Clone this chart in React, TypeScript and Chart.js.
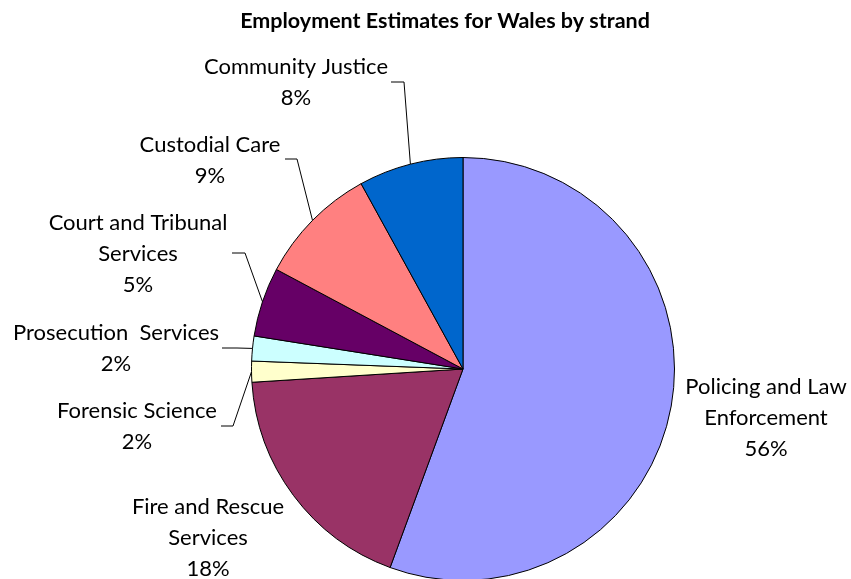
import React, { useEffect, useRef } from "react";
import { Chart, registerables } from "chart.js";

Chart.register(...registerables);

const TITLE = "Employment Estimates for Wales by strand";
const categories = [
  "Policing and Law Enforcement",
  "Fire and Rescue Services",
  "Forensic Science",
  "Prosecution  Services",
  "Court and Tribunal Services",
  "Custodial Care",
  "Community Justice",
];
const shares = [55.6, 18.4, 1.6, 1.9, 5.3, 9.2, 8.0];
const colors = ["#9999FF", "#993366", "#FFFFCC", "#CCFFFF", "#660066", "#FF8080", "#0066CC"];

// label text lines (as broken in the reference)
const labelLines = [
  ["Policing and Law", "Enforcement"],
  ["Fire and Rescue", "Services"],
  ["Forensic Science"],
  ["Prosecution  Services"],
  ["Court and Tribunal", "Services"],
  ["Custodial Care"],
  ["Community Justice"],
];

// layout: label block center x, first line y, optional leader (horizontal from hx0 to hx1 at hy)
const labelLayout = [
  { x: 766, y: 387, leader: null },
  { x: 208, y: 507, leader: null },
  { x: 137, y: 411, leader: { hx0: 221, hx1: 233, hy: 426 } },
  { x: 116, y: 333, leader: { hx0: 222, hx1: 237, hy: 348 } },
  { x: 138, y: 223, leader: { hx0: 232, hx1: 245, hy: 253 } },
  { x: 210, y: 145, leader: { hx0: 285, hx1: 297, hy: 159 } },
  { x: 296, y: 67, leader: { hx0: 391, hx1: 404, hy: 82 } },
];

const FONT = "Lato, 'Noto Sans', sans-serif";
const LINE_H = 31;

const labelPlugin = {
  id: "pieLabels",
  afterDraw(chart: any) {
    const ctx = chart.ctx as CanvasRenderingContext2D;
    const meta = chart.getDatasetMeta(0);
    const data = chart.data.datasets[0].data as number[];
    const total = data.reduce((a, b) => a + b, 0);
    ctx.save();
    // title
    ctx.fillStyle = "#000";
    ctx.font = `bold 21.5px ${FONT}`;
    ctx.textAlign = "center";
    ctx.textBaseline = "middle";
    ctx.fillText(TITLE, 445, 21);

    ctx.font = `22px ${FONT}`;
    meta.data.forEach((arc: any, i: number) => {
      const p = arc.getProps(["x", "y", "startAngle", "endAngle", "outerRadius"], true);
      const mid = (p.startAngle + p.endAngle) / 2;
      const ex = p.x + Math.cos(mid) * p.outerRadius;
      const ey = p.y + Math.sin(mid) * p.outerRadius;
      const lay = labelLayout[i];
      const pct = Math.round((data[i] / total) * 100) + "%";
      const lines = [...labelLines[i], pct];
      ctx.fillStyle = "#000";
      lines.forEach((t, k) => ctx.fillText(t, lay.x, lay.y + k * LINE_H));
      if (lay.leader) {
        ctx.strokeStyle = "#000";
        ctx.lineWidth = 1;
        ctx.beginPath();
        ctx.moveTo(lay.leader.hx0, lay.leader.hy);
        ctx.lineTo(lay.leader.hx1, lay.leader.hy);
        ctx.lineTo(ex, ey);
        ctx.stroke();
      }
    });
    ctx.restore();
  },
};

export default function App() {
  const ref = useRef<HTMLCanvasElement | null>(null);
  useEffect(() => {
    if (!ref.current) return;
    const chart = new Chart(ref.current, {
      type: "pie",
      data: {
        labels: categories,
        datasets: [
          {
            data: shares,
            backgroundColor: colors,
            borderColor: "#000",
            borderWidth: 1,
          },
        ],
      },
      options: {
        responsive: false,
        animation: false,
        radius: 211.5,
        layout: { padding: { top: 159, bottom: 0, left: 75, right: 0 } },
        plugins: {
          legend: { display: false },
          tooltip: { enabled: false },
          title: { display: false },
        },
      } as any,
      plugins: [labelPlugin],
    });
    return () => chart.destroy();
  }, []);
  return (
    <div style={{ position: "fixed", left: 0, top: 0, width: 851, height: 579, background: "#fff" }}>
      <canvas ref={ref} width={851} height={579} />
    </div>
  );
}
